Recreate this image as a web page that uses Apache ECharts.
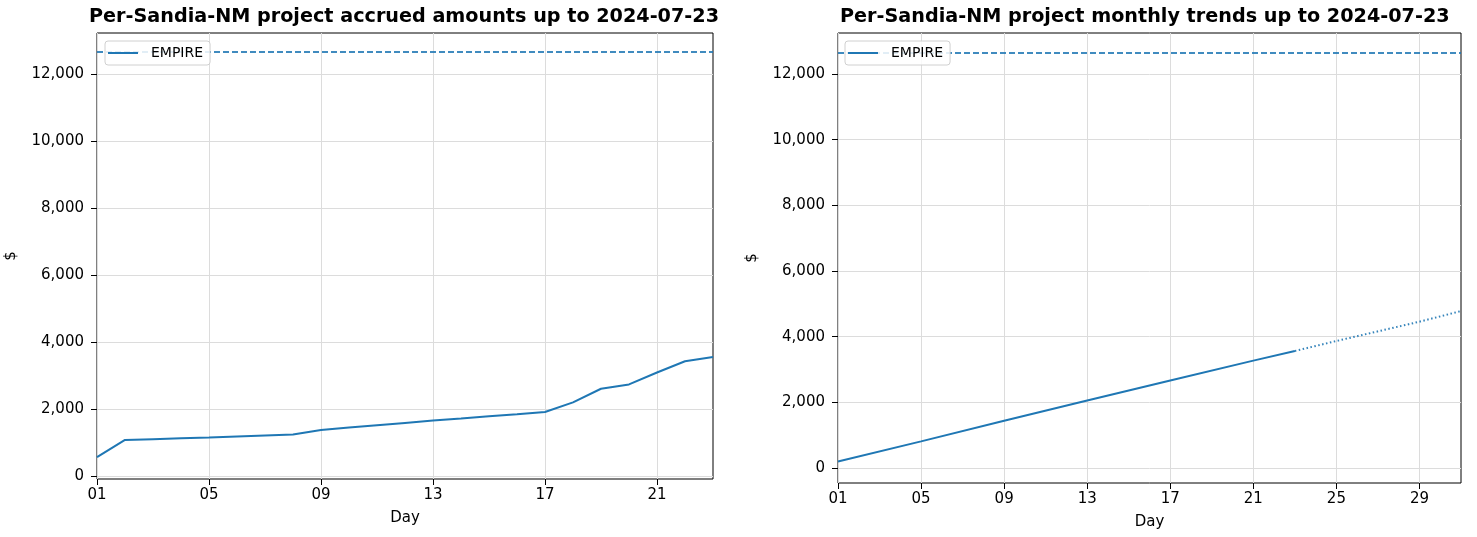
<!DOCTYPE html>
<html>
<head>
<meta charset="utf-8">
<script src="https://cdn.jsdelivr.net/npm/echarts@6/dist/echarts.min.js"></script>
<style>
  html, body { margin: 0; padding: 0; background: #fff; }
  #chart { width: 1477px; height: 537px; }
</style>
</head>
<body>
<div id="chart"></div>
<script>
// left panel: accrued amounts per day (July 2024)
const accruedDays = ['01', '02', '03', '04', '05', '06', '07', '08', '09', '10', '11', '12',
  '13', '14', '15', '16', '17', '18', '19', '20', '21', '22', '23']
const accruedAmounts = [560, 1075, 1100, 1125, 1150, 1180, 1210, 1238, 1376, 1445, 1515, 1585,
  1653, 1715, 1782, 1845, 1911, 2198, 2604, 2733, 3089, 3426, 3554]

// right panel: monthly trend, actual part then projection
const trendDays = ['01', '02', '03', '04', '05', '06', '07', '08', '09', '10', '11', '12', '13',
  '14', '15', '16', '17', '18', '19', '20', '21', '22', '23', '24', '25', '26', '27', '28', '29', '30', '31']
const trendActualDays = ['01', '05', '09', '13', '17', '21', '23']
const trendActualValues = [200, 810, 1438, 2056, 2663, 3271, 3565]
const trendProjDays = ['23', '25', '29', '31']
const trendProjValues = [3565, 3868, 4456, 4780]

const budget = 12650
const yTicks = [0, 2000, 4000, 6000, 8000, 10000, 12000]

const blue = '#1f77b4'
const font = 'DejaVu Sans'
const chart = echarts.init(document.getElementById('chart'))

function pairs(days, vals) {
  return days.map((d, i) => [d, vals[i]])
}

function xAxisFor(gridIndex, days) {
  return {
    type: 'category',
    gridIndex: gridIndex,
    data: days,
    boundaryGap: false,
    name: 'Day',
    nameLocation: 'middle',
    nameGap: 32,
    nameTextStyle: { color: '#000', fontSize: 15, fontFamily: font },
    axisLine: { show: false, onZero: false },
    axisTick: { show: true, interval: 3, length: 6, lineStyle: { color: '#000' } },
    axisLabel: { interval: 3, color: '#000', fontSize: 15, fontFamily: font, margin: 9 },
    splitLine: { show: true, interval: 3, lineStyle: { color: '#dcdcdc', width: 1 } }
  }
}

function yAxisFor(gridIndex, min, max) {
  return {
    type: 'value',
    gridIndex: gridIndex,
    min: min,
    max: max,
    name: '$',
    nameLocation: 'middle',
    nameGap: 78,
    nameRotate: 90,
    nameTextStyle: { color: '#000', fontSize: 15, fontFamily: font },
    axisLine: { show: false, onZero: false },
    axisTick: { show: true, length: 6, customValues: yTicks, lineStyle: { color: '#000' } },
    axisLabel: {
      customValues: yTicks,
      color: '#000', fontSize: 15, fontFamily: font, margin: 13,
      formatter: v => Number(v).toLocaleString('en-US')
    },
    splitLine: { show: true, lineStyle: { color: '#dcdcdc', width: 1 } }
  }
}

function legendFor(left) {
  return {
    left: left,
    top: 41,
    z: 20,
    orient: 'vertical',
    data: [{ name: 'EMPIRE', icon: 'rect' }],
    itemWidth: 30,
    itemHeight: 2,
    padding: [5, 7, 5, 3],
    backgroundColor: 'rgba(255,255,255,0.85)',
    borderColor: '#d0d0d0',
    borderWidth: 1,
    borderRadius: 3,
    textStyle: { color: '#000', fontSize: 14, fontFamily: font, padding: [0, 0, 0, 8] }
  }
}

const budgetLine = {
  silent: true,
  symbol: 'none',
  z: 1,
  label: { show: false },
  lineStyle: { color: blue, type: [6, 3], width: 2, opacity: 0.85 },
  data: [{ yAxis: budget }]
}

const option = {
  animation: false,
  backgroundColor: '#fff',
  title: [
    { text: 'Per-Sandia-NM project accrued amounts up to 2024-07-23', left: 84, top: 3,
      textStyle: { fontSize: 19.2, fontWeight: 'bold', color: '#000', fontFamily: font } },
    { text: 'Per-Sandia-NM project monthly trends up to 2024-07-23', left: 835, top: 3,
      textStyle: { fontSize: 19.2, fontWeight: 'bold', color: '#000', fontFamily: font } }
  ],
  legend: [legendFor(105), legendFor(845)],
  grid: [
    { left: 97, right: 764, top: 33, bottom: 58, show: true, borderColor: '#000', borderWidth: 1 },
    { left: 838, right: 16, top: 33, bottom: 54, show: true, borderColor: '#000', borderWidth: 1 }
  ],
  xAxis: [xAxisFor(0, accruedDays), xAxisFor(1, trendDays)],
  yAxis: [yAxisFor(0, -90, 13224), yAxisFor(1, -457, 13249)],
  series: [
    {
      name: 'EMPIRE',
      type: 'line',
      xAxisIndex: 0,
      yAxisIndex: 0,
      data: accruedAmounts,
      symbol: 'none',
      lineStyle: { color: blue, width: 2 },
      itemStyle: { color: blue },
      markLine: budgetLine
    },
    {
      name: 'EMPIRE',
      type: 'line',
      xAxisIndex: 1,
      yAxisIndex: 1,
      data: pairs(trendActualDays, trendActualValues),
      symbol: 'none',
      lineStyle: { color: blue, width: 2 },
      itemStyle: { color: blue },
      markLine: budgetLine
    },
    {
      name: 'EMPIRE projection',
      type: 'line',
      xAxisIndex: 1,
      yAxisIndex: 1,
      data: pairs(trendProjDays, trendProjValues),
      symbol: 'none',
      lineStyle: { color: blue, width: 2, type: [1.5, 2.5], opacity: 0.9 },
      itemStyle: { color: blue }
    }
  ]
}

chart.setOption(option)
</script>
</body>
</html>
